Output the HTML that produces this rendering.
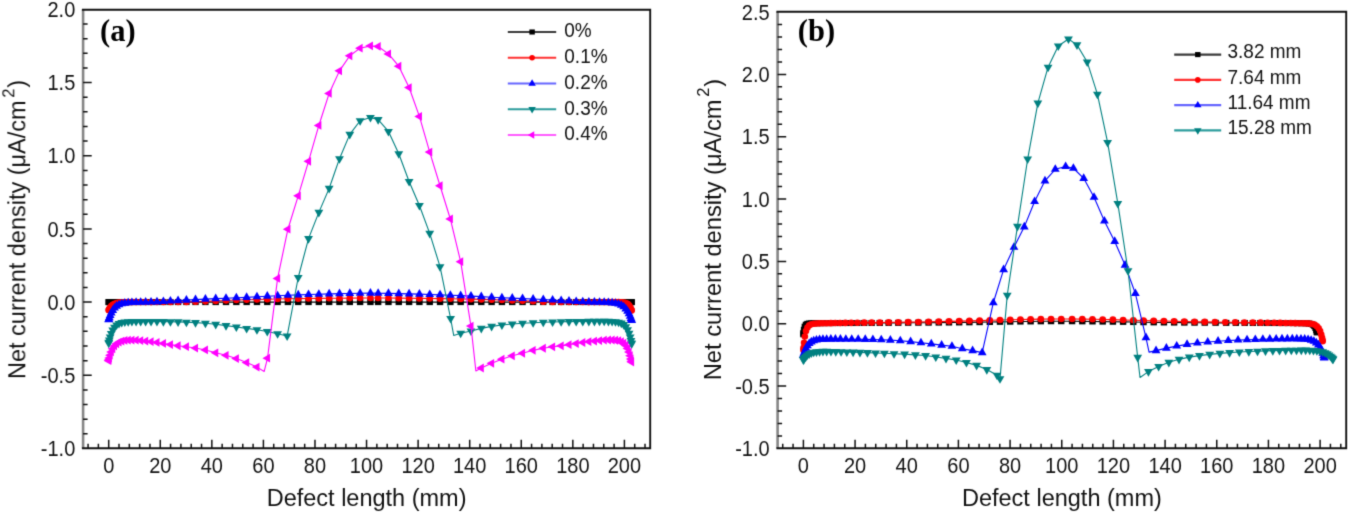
<!DOCTYPE html><html><head><meta charset="utf-8"><style>html,body{margin:0;padding:0;background:#fff;overflow:hidden}svg{display:block}</style></head><body>
<svg width="1348" height="514" viewBox="0 0 1348 514">
<defs><filter id="bl" x="0" y="0" width="1348" height="514" filterUnits="userSpaceOnUse" color-interpolation-filters="sRGB"><feConvolveMatrix order="3" kernelMatrix="0.01960 0.10080 0.01960 0.10080 0.51840 0.10080 0.01960 0.10080 0.01960" divisor="1" edgeMode="duplicate"/></filter></defs>
<rect width="1348" height="514" fill="#fff"/>
<g filter="url(#bl)">
<g>
<path d="M108.70 302.10L108.86 302.10L109.34 302.10L110.15 302.10L111.28 302.10L112.73 302.10L114.50 302.10L116.60 302.10L119.01 302.10L121.75 302.10L124.82 302.10L128.20 302.10L131.91 302.10L136.09 302.10L140.66 302.10L145.63 302.10L151.05 302.10L156.96 302.10L163.40 302.10L170.42 302.10L178.07 302.10L186.41 302.10L195.50 302.10L205.41 302.10L215.71 302.10L226.02 302.10L236.34 302.10L246.65 302.10L256.96 302.10L267.28 302.10L277.59 302.10L287.91 302.10L298.22 302.10L308.53 302.10L318.85 302.10L329.16 302.10L339.48 302.10L349.79 302.10L360.10 302.10L370.42 302.10L378.15 302.10L388.47 302.10L398.78 302.10L409.10 302.10L419.41 302.10L429.72 302.10L440.04 302.10L450.35 302.10L460.67 302.10L470.98 302.10L481.29 302.10L491.61 302.10L501.92 302.10L512.24 302.10L522.55 302.10L533.11 302.10L543.27 302.10L552.59 302.10L561.15 302.10L568.99 302.10L576.19 302.10L582.79 302.10L588.85 302.10L594.41 302.10L599.51 302.10L604.18 302.10L608.41 302.10L612.12 302.10L615.50 302.10L618.57 302.10L621.31 302.10L623.72 302.10L625.82 302.10L627.59 302.10L629.04 302.10L630.17 302.10L630.98 302.10L631.46 302.10L631.62 302.10" fill="none" stroke="#000000" stroke-width="1.1" stroke-linejoin="round"/>
<g fill="#000000"><rect x="105.50" y="299.10" width="6.40" height="6.00"/><rect x="105.66" y="299.10" width="6.40" height="6.00"/><rect x="106.14" y="299.10" width="6.40" height="6.00"/><rect x="106.95" y="299.10" width="6.40" height="6.00"/><rect x="108.08" y="299.10" width="6.40" height="6.00"/><rect x="109.53" y="299.10" width="6.40" height="6.00"/><rect x="111.30" y="299.10" width="6.40" height="6.00"/><rect x="113.40" y="299.10" width="6.40" height="6.00"/><rect x="115.81" y="299.10" width="6.40" height="6.00"/><rect x="118.55" y="299.10" width="6.40" height="6.00"/><rect x="121.62" y="299.10" width="6.40" height="6.00"/><rect x="125.00" y="299.10" width="6.40" height="6.00"/><rect x="128.71" y="299.10" width="6.40" height="6.00"/><rect x="132.89" y="299.10" width="6.40" height="6.00"/><rect x="137.46" y="299.10" width="6.40" height="6.00"/><rect x="142.43" y="299.10" width="6.40" height="6.00"/><rect x="147.85" y="299.10" width="6.40" height="6.00"/><rect x="153.76" y="299.10" width="6.40" height="6.00"/><rect x="160.20" y="299.10" width="6.40" height="6.00"/><rect x="167.22" y="299.10" width="6.40" height="6.00"/><rect x="174.87" y="299.10" width="6.40" height="6.00"/><rect x="183.21" y="299.10" width="6.40" height="6.00"/><rect x="192.30" y="299.10" width="6.40" height="6.00"/><rect x="202.21" y="299.10" width="6.40" height="6.00"/><rect x="212.51" y="299.10" width="6.40" height="6.00"/><rect x="222.82" y="299.10" width="6.40" height="6.00"/><rect x="233.14" y="299.10" width="6.40" height="6.00"/><rect x="243.45" y="299.10" width="6.40" height="6.00"/><rect x="253.76" y="299.10" width="6.40" height="6.00"/><rect x="264.08" y="299.10" width="6.40" height="6.00"/><rect x="274.39" y="299.10" width="6.40" height="6.00"/><rect x="284.71" y="299.10" width="6.40" height="6.00"/><rect x="295.02" y="299.10" width="6.40" height="6.00"/><rect x="305.33" y="299.10" width="6.40" height="6.00"/><rect x="315.65" y="299.10" width="6.40" height="6.00"/><rect x="325.96" y="299.10" width="6.40" height="6.00"/><rect x="336.28" y="299.10" width="6.40" height="6.00"/><rect x="346.59" y="299.10" width="6.40" height="6.00"/><rect x="356.90" y="299.10" width="6.40" height="6.00"/><rect x="367.22" y="299.10" width="6.40" height="6.00"/><rect x="374.95" y="299.10" width="6.40" height="6.00"/><rect x="385.27" y="299.10" width="6.40" height="6.00"/><rect x="395.58" y="299.10" width="6.40" height="6.00"/><rect x="405.90" y="299.10" width="6.40" height="6.00"/><rect x="416.21" y="299.10" width="6.40" height="6.00"/><rect x="426.52" y="299.10" width="6.40" height="6.00"/><rect x="436.84" y="299.10" width="6.40" height="6.00"/><rect x="447.15" y="299.10" width="6.40" height="6.00"/><rect x="457.47" y="299.10" width="6.40" height="6.00"/><rect x="467.78" y="299.10" width="6.40" height="6.00"/><rect x="478.09" y="299.10" width="6.40" height="6.00"/><rect x="488.41" y="299.10" width="6.40" height="6.00"/><rect x="498.72" y="299.10" width="6.40" height="6.00"/><rect x="509.04" y="299.10" width="6.40" height="6.00"/><rect x="519.35" y="299.10" width="6.40" height="6.00"/><rect x="529.91" y="299.10" width="6.40" height="6.00"/><rect x="540.07" y="299.10" width="6.40" height="6.00"/><rect x="549.39" y="299.10" width="6.40" height="6.00"/><rect x="557.95" y="299.10" width="6.40" height="6.00"/><rect x="565.79" y="299.10" width="6.40" height="6.00"/><rect x="572.99" y="299.10" width="6.40" height="6.00"/><rect x="579.59" y="299.10" width="6.40" height="6.00"/><rect x="585.65" y="299.10" width="6.40" height="6.00"/><rect x="591.21" y="299.10" width="6.40" height="6.00"/><rect x="596.31" y="299.10" width="6.40" height="6.00"/><rect x="600.98" y="299.10" width="6.40" height="6.00"/><rect x="605.21" y="299.10" width="6.40" height="6.00"/><rect x="608.92" y="299.10" width="6.40" height="6.00"/><rect x="612.30" y="299.10" width="6.40" height="6.00"/><rect x="615.37" y="299.10" width="6.40" height="6.00"/><rect x="618.11" y="299.10" width="6.40" height="6.00"/><rect x="620.52" y="299.10" width="6.40" height="6.00"/><rect x="622.62" y="299.10" width="6.40" height="6.00"/><rect x="624.39" y="299.10" width="6.40" height="6.00"/><rect x="625.84" y="299.10" width="6.40" height="6.00"/><rect x="626.97" y="299.10" width="6.40" height="6.00"/><rect x="627.78" y="299.10" width="6.40" height="6.00"/><rect x="628.26" y="299.10" width="6.40" height="6.00"/><rect x="628.42" y="299.10" width="6.40" height="6.00"/></g>
<path d="M108.70 310.15L108.86 309.80L109.34 308.83L110.15 307.49L111.28 306.04L112.73 304.74L114.50 303.71L116.60 303.00L119.01 302.56L121.75 302.32L124.82 302.19L128.20 302.14L131.91 302.11L136.09 302.10L140.66 302.10L145.63 302.09L151.05 302.09L156.96 302.07L163.40 302.05L170.42 302.03L178.07 302.00L186.41 301.95L195.50 301.74L205.41 301.34L215.71 300.93L226.02 300.50L236.34 300.07L246.65 299.72L256.96 299.44L267.28 299.21L277.59 299.00L287.91 298.82L298.22 298.66L308.53 298.52L318.85 298.40L329.16 298.29L339.48 298.18L349.79 298.09L360.10 298.02L370.42 298.00L378.15 298.02L388.47 298.07L398.78 298.16L409.10 298.26L419.41 298.38L429.72 298.49L440.04 298.63L450.35 298.79L460.67 298.97L470.98 299.16L481.29 299.39L491.61 299.66L501.92 299.99L512.24 300.41L522.55 300.85L533.11 301.26L543.27 301.69L552.59 301.94L561.15 301.99L568.99 302.03L576.19 302.05L582.79 302.07L588.85 302.08L594.41 302.09L599.51 302.10L604.18 302.10L608.41 302.10L612.12 302.10L615.50 302.12L618.57 302.15L621.31 302.26L623.72 302.50L625.82 302.99L627.59 303.88L629.04 305.22L630.17 306.94L630.98 308.71L631.46 310.07L631.62 310.59" fill="none" stroke="#ff0000" stroke-width="1.1" stroke-linejoin="round"/>
<g fill="#ff0000"><circle cx="108.70" cy="310.15" r="3.30"/><circle cx="108.86" cy="309.80" r="3.30"/><circle cx="109.34" cy="308.83" r="3.30"/><circle cx="110.15" cy="307.49" r="3.30"/><circle cx="111.28" cy="306.04" r="3.30"/><circle cx="112.73" cy="304.74" r="3.30"/><circle cx="114.50" cy="303.71" r="3.30"/><circle cx="116.60" cy="303.00" r="3.30"/><circle cx="119.01" cy="302.56" r="3.30"/><circle cx="121.75" cy="302.32" r="3.30"/><circle cx="124.82" cy="302.19" r="3.30"/><circle cx="128.20" cy="302.14" r="3.30"/><circle cx="131.91" cy="302.11" r="3.30"/><circle cx="136.09" cy="302.10" r="3.30"/><circle cx="140.66" cy="302.10" r="3.30"/><circle cx="145.63" cy="302.09" r="3.30"/><circle cx="151.05" cy="302.09" r="3.30"/><circle cx="156.96" cy="302.07" r="3.30"/><circle cx="163.40" cy="302.05" r="3.30"/><circle cx="170.42" cy="302.03" r="3.30"/><circle cx="178.07" cy="302.00" r="3.30"/><circle cx="186.41" cy="301.95" r="3.30"/><circle cx="195.50" cy="301.74" r="3.30"/><circle cx="205.41" cy="301.34" r="3.30"/><circle cx="215.71" cy="300.93" r="3.30"/><circle cx="226.02" cy="300.50" r="3.30"/><circle cx="236.34" cy="300.07" r="3.30"/><circle cx="246.65" cy="299.72" r="3.30"/><circle cx="256.96" cy="299.44" r="3.30"/><circle cx="267.28" cy="299.21" r="3.30"/><circle cx="277.59" cy="299.00" r="3.30"/><circle cx="287.91" cy="298.82" r="3.30"/><circle cx="298.22" cy="298.66" r="3.30"/><circle cx="308.53" cy="298.52" r="3.30"/><circle cx="318.85" cy="298.40" r="3.30"/><circle cx="329.16" cy="298.29" r="3.30"/><circle cx="339.48" cy="298.18" r="3.30"/><circle cx="349.79" cy="298.09" r="3.30"/><circle cx="360.10" cy="298.02" r="3.30"/><circle cx="370.42" cy="298.00" r="3.30"/><circle cx="378.15" cy="298.02" r="3.30"/><circle cx="388.47" cy="298.07" r="3.30"/><circle cx="398.78" cy="298.16" r="3.30"/><circle cx="409.10" cy="298.26" r="3.30"/><circle cx="419.41" cy="298.38" r="3.30"/><circle cx="429.72" cy="298.49" r="3.30"/><circle cx="440.04" cy="298.63" r="3.30"/><circle cx="450.35" cy="298.79" r="3.30"/><circle cx="460.67" cy="298.97" r="3.30"/><circle cx="470.98" cy="299.16" r="3.30"/><circle cx="481.29" cy="299.39" r="3.30"/><circle cx="491.61" cy="299.66" r="3.30"/><circle cx="501.92" cy="299.99" r="3.30"/><circle cx="512.24" cy="300.41" r="3.30"/><circle cx="522.55" cy="300.85" r="3.30"/><circle cx="533.11" cy="301.26" r="3.30"/><circle cx="543.27" cy="301.69" r="3.30"/><circle cx="552.59" cy="301.94" r="3.30"/><circle cx="561.15" cy="301.99" r="3.30"/><circle cx="568.99" cy="302.03" r="3.30"/><circle cx="576.19" cy="302.05" r="3.30"/><circle cx="582.79" cy="302.07" r="3.30"/><circle cx="588.85" cy="302.08" r="3.30"/><circle cx="594.41" cy="302.09" r="3.30"/><circle cx="599.51" cy="302.10" r="3.30"/><circle cx="604.18" cy="302.10" r="3.30"/><circle cx="608.41" cy="302.10" r="3.30"/><circle cx="612.12" cy="302.10" r="3.30"/><circle cx="615.50" cy="302.12" r="3.30"/><circle cx="618.57" cy="302.15" r="3.30"/><circle cx="621.31" cy="302.26" r="3.30"/><circle cx="623.72" cy="302.50" r="3.30"/><circle cx="625.82" cy="302.99" r="3.30"/><circle cx="627.59" cy="303.88" r="3.30"/><circle cx="629.04" cy="305.22" r="3.30"/><circle cx="630.17" cy="306.94" r="3.30"/><circle cx="630.98" cy="308.71" r="3.30"/><circle cx="631.46" cy="310.07" r="3.30"/><circle cx="631.62" cy="310.59" r="3.30"/></g>
<path d="M108.70 319.66L108.86 319.13L109.34 317.63L110.15 315.43L111.28 312.89L112.73 310.34L114.50 308.06L116.60 306.18L119.01 304.74L121.75 303.73L124.82 303.11L128.20 302.74L131.91 302.51L136.09 302.35L140.66 302.24L145.63 302.17L151.05 302.08L156.96 301.85L163.40 301.50L170.42 301.08L178.07 300.66L186.41 300.16L195.50 299.63L205.41 299.11L215.71 298.67L226.02 298.24L236.34 297.82L246.65 297.35L256.96 296.76L267.28 296.18L277.59 295.71L287.91 295.30L298.22 294.91L308.53 294.55L318.85 294.22L329.16 293.90L339.48 293.64L349.79 293.43L360.10 293.25L370.42 293.17L378.15 293.22L388.47 293.39L398.78 293.60L409.10 293.84L419.41 294.15L429.72 294.49L440.04 294.84L450.35 295.22L460.67 295.63L470.98 296.08L481.29 296.63L491.61 297.24L501.92 297.73L512.24 298.15L522.55 298.58L533.11 299.03L543.27 299.54L552.59 300.09L561.15 300.59L568.99 301.03L576.19 301.46L582.79 301.83L588.85 302.07L594.41 302.17L599.51 302.26L604.18 302.39L608.41 302.58L612.12 302.87L615.50 303.33L618.57 304.08L621.31 305.24L623.72 306.83L625.82 308.86L627.59 311.24L629.04 313.81L630.17 316.32L630.98 318.45L631.46 319.89L631.62 320.39" fill="none" stroke="#0000ff" stroke-width="1.1" stroke-linejoin="round"/>
<g fill="#0000ff"><path d="M108.70 314.60L113.10 322.20L104.30 322.20Z"/><path d="M108.86 314.06L113.26 321.66L104.46 321.66Z"/><path d="M109.34 312.56L113.74 320.16L104.94 320.16Z"/><path d="M110.15 310.36L114.55 317.96L105.75 317.96Z"/><path d="M111.28 307.82L115.68 315.42L106.88 315.42Z"/><path d="M112.73 305.28L117.13 312.88L108.33 312.88Z"/><path d="M114.50 303.00L118.90 310.60L110.10 310.60Z"/><path d="M116.60 301.11L121.00 308.71L112.20 308.71Z"/><path d="M119.01 299.68L123.41 307.28L114.61 307.28Z"/><path d="M121.75 298.67L126.15 306.27L117.35 306.27Z"/><path d="M124.82 298.04L129.22 305.64L120.42 305.64Z"/><path d="M128.20 297.67L132.60 305.27L123.80 305.27Z"/><path d="M131.91 297.44L136.31 305.04L127.51 305.04Z"/><path d="M136.09 297.29L140.49 304.89L131.69 304.89Z"/><path d="M140.66 297.18L145.06 304.78L136.26 304.78Z"/><path d="M145.63 297.10L150.03 304.70L141.23 304.70Z"/><path d="M151.05 297.01L155.45 304.61L146.65 304.61Z"/><path d="M156.96 296.79L161.36 304.39L152.56 304.39Z"/><path d="M163.40 296.44L167.80 304.04L159.00 304.04Z"/><path d="M170.42 296.02L174.82 303.62L166.02 303.62Z"/><path d="M178.07 295.59L182.47 303.19L173.67 303.19Z"/><path d="M186.41 295.10L190.81 302.70L182.01 302.70Z"/><path d="M195.50 294.56L199.90 302.16L191.10 302.16Z"/><path d="M205.41 294.04L209.81 301.64L201.01 301.64Z"/><path d="M215.71 293.60L220.11 301.20L211.31 301.20Z"/><path d="M226.02 293.17L230.42 300.77L221.62 300.77Z"/><path d="M236.34 292.75L240.74 300.35L231.94 300.35Z"/><path d="M246.65 292.29L251.05 299.89L242.25 299.89Z"/><path d="M256.96 291.69L261.36 299.29L252.56 299.29Z"/><path d="M267.28 291.12L271.68 298.72L262.88 298.72Z"/><path d="M277.59 290.65L281.99 298.25L273.19 298.25Z"/><path d="M287.91 290.23L292.31 297.83L283.51 297.83Z"/><path d="M298.22 289.85L302.62 297.45L293.82 297.45Z"/><path d="M308.53 289.49L312.93 297.09L304.13 297.09Z"/><path d="M318.85 289.15L323.25 296.75L314.45 296.75Z"/><path d="M329.16 288.83L333.56 296.43L324.76 296.43Z"/><path d="M339.48 288.57L343.88 296.17L335.08 296.17Z"/><path d="M349.79 288.36L354.19 295.96L345.39 295.96Z"/><path d="M360.10 288.18L364.50 295.78L355.70 295.78Z"/><path d="M370.42 288.11L374.82 295.71L366.02 295.71Z"/><path d="M378.15 288.15L382.55 295.75L373.75 295.75Z"/><path d="M388.47 288.32L392.87 295.92L384.07 295.92Z"/><path d="M398.78 288.53L403.18 296.13L394.38 296.13Z"/><path d="M409.10 288.78L413.50 296.38L404.70 296.38Z"/><path d="M419.41 289.09L423.81 296.69L415.01 296.69Z"/><path d="M429.72 289.42L434.12 297.02L425.32 297.02Z"/><path d="M440.04 289.77L444.44 297.37L435.64 297.37Z"/><path d="M450.35 290.15L454.75 297.75L445.95 297.75Z"/><path d="M460.67 290.56L465.07 298.16L456.27 298.16Z"/><path d="M470.98 291.02L475.38 298.62L466.58 298.62Z"/><path d="M481.29 291.57L485.69 299.17L476.89 299.17Z"/><path d="M491.61 292.18L496.01 299.78L487.21 299.78Z"/><path d="M501.92 292.67L506.32 300.27L497.52 300.27Z"/><path d="M512.24 293.09L516.64 300.69L507.84 300.69Z"/><path d="M522.55 293.52L526.95 301.12L518.15 301.12Z"/><path d="M533.11 293.96L537.51 301.56L528.71 301.56Z"/><path d="M543.27 294.48L547.67 302.08L538.87 302.08Z"/><path d="M552.59 295.02L556.99 302.62L548.19 302.62Z"/><path d="M561.15 295.53L565.55 303.13L556.75 303.13Z"/><path d="M568.99 295.96L573.39 303.56L564.59 303.56Z"/><path d="M576.19 296.39L580.59 303.99L571.79 303.99Z"/><path d="M582.79 296.76L587.19 304.36L578.39 304.36Z"/><path d="M588.85 297.00L593.25 304.60L584.45 304.60Z"/><path d="M594.41 297.11L598.81 304.71L590.01 304.71Z"/><path d="M599.51 297.19L603.91 304.79L595.11 304.79Z"/><path d="M604.18 297.32L608.58 304.92L599.78 304.92Z"/><path d="M608.41 297.51L612.81 305.11L604.01 305.11Z"/><path d="M612.12 297.80L616.52 305.40L607.72 305.40Z"/><path d="M615.50 298.26L619.90 305.86L611.10 305.86Z"/><path d="M618.57 299.01L622.97 306.61L614.17 306.61Z"/><path d="M621.31 300.17L625.71 307.77L616.91 307.77Z"/><path d="M623.72 301.77L628.12 309.37L619.32 309.37Z"/><path d="M625.82 303.79L630.22 311.39L621.42 311.39Z"/><path d="M627.59 306.17L631.99 313.77L623.19 313.77Z"/><path d="M629.04 308.74L633.44 316.34L624.64 316.34Z"/><path d="M630.17 311.25L634.57 318.85L625.77 318.85Z"/><path d="M630.98 313.38L635.38 320.98L626.58 320.98Z"/><path d="M631.46 314.82L635.86 322.42L627.06 322.42Z"/><path d="M631.62 315.33L636.02 322.93L627.22 322.93Z"/></g>
<path d="M108.70 343.08L108.86 342.30L109.34 340.13L110.15 337.00L111.28 333.48L112.73 330.10L114.50 327.23L116.60 325.04L119.01 323.52L121.75 322.55L124.82 321.98L128.20 321.68L131.91 321.53L136.09 321.46L140.66 321.44L145.63 321.46L151.05 321.49L156.96 321.54L163.40 321.60L170.42 321.72L178.07 321.91L186.41 322.16L195.50 322.60L205.41 323.28L215.71 324.31L226.02 325.58L236.34 327.01L246.65 328.41L256.96 329.72L267.28 331.42L277.59 333.71L287.13 336.05L298.22 277.51L308.53 238.58L318.85 212.39L329.16 188.39L339.48 158.68L349.79 134.38L360.10 120.77L370.42 117.55L378.15 119.60L388.47 131.46L398.78 153.70L409.10 181.51L419.41 205.51L429.72 233.32L440.04 266.68L450.61 318.49L453.70 335.47L460.67 333.26L470.98 330.93L481.29 328.39L491.61 326.39L501.92 324.93L512.24 323.96L522.55 323.24L533.11 322.69L543.27 322.27L552.59 321.99L561.15 321.78L568.99 321.62L576.19 321.52L582.79 321.43L588.85 321.36L594.41 321.31L599.51 321.29L604.18 321.30L608.41 321.35L612.12 321.47L615.50 321.73L618.57 322.22L621.31 323.12L623.72 324.60L625.82 326.79L627.59 329.76L629.04 333.34L630.17 337.13L630.98 340.55L631.46 342.95L631.62 343.81" fill="none" stroke="#008080" stroke-width="1.1" stroke-linejoin="round"/>
<g fill="#008080"><path d="M108.70 348.14L113.10 340.54L104.30 340.54Z"/><path d="M108.86 347.37L113.26 339.77L104.46 339.77Z"/><path d="M109.34 345.20L113.74 337.60L104.94 337.60Z"/><path d="M110.15 342.07L114.55 334.47L105.75 334.47Z"/><path d="M111.28 338.55L115.68 330.95L106.88 330.95Z"/><path d="M112.73 335.17L117.13 327.57L108.33 327.57Z"/><path d="M114.50 332.30L118.90 324.70L110.10 324.70Z"/><path d="M116.60 330.11L121.00 322.51L112.20 322.51Z"/><path d="M119.01 328.58L123.41 320.98L114.61 320.98Z"/><path d="M121.75 327.62L126.15 320.02L117.35 320.02Z"/><path d="M124.82 327.05L129.22 319.45L120.42 319.45Z"/><path d="M128.20 326.75L132.60 319.15L123.80 319.15Z"/><path d="M131.91 326.59L136.31 318.99L127.51 318.99Z"/><path d="M136.09 326.53L140.49 318.93L131.69 318.93Z"/><path d="M140.66 326.51L145.06 318.91L136.26 318.91Z"/><path d="M145.63 326.52L150.03 318.92L141.23 318.92Z"/><path d="M151.05 326.56L155.45 318.96L146.65 318.96Z"/><path d="M156.96 326.60L161.36 319.00L152.56 319.00Z"/><path d="M163.40 326.67L167.80 319.07L159.00 319.07Z"/><path d="M170.42 326.79L174.82 319.19L166.02 319.19Z"/><path d="M178.07 326.97L182.47 319.37L173.67 319.37Z"/><path d="M186.41 327.23L190.81 319.63L182.01 319.63Z"/><path d="M195.50 327.66L199.90 320.06L191.10 320.06Z"/><path d="M205.41 328.34L209.81 320.74L201.01 320.74Z"/><path d="M215.71 329.38L220.11 321.78L211.31 321.78Z"/><path d="M226.02 330.65L230.42 323.05L221.62 323.05Z"/><path d="M236.34 332.08L240.74 324.48L231.94 324.48Z"/><path d="M246.65 333.48L251.05 325.88L242.25 325.88Z"/><path d="M256.96 334.79L261.36 327.19L252.56 327.19Z"/><path d="M267.28 336.49L271.68 328.89L262.88 328.89Z"/><path d="M277.59 338.78L281.99 331.18L273.19 331.18Z"/><path d="M287.13 341.12L291.53 333.52L282.73 333.52Z"/><path d="M298.22 282.58L302.62 274.98L293.82 274.98Z"/><path d="M308.53 243.65L312.93 236.05L304.13 236.05Z"/><path d="M318.85 217.45L323.25 209.85L314.45 209.85Z"/><path d="M329.16 193.45L333.56 185.85L324.76 185.85Z"/><path d="M339.48 163.74L343.88 156.14L335.08 156.14Z"/><path d="M349.79 139.45L354.19 131.85L345.39 131.85Z"/><path d="M360.10 125.84L364.50 118.24L355.70 118.24Z"/><path d="M370.42 122.62L374.82 115.02L366.02 115.02Z"/><path d="M378.15 124.67L382.55 117.07L373.75 117.07Z"/><path d="M388.47 136.52L392.87 128.92L384.07 128.92Z"/><path d="M398.78 158.77L403.18 151.17L394.38 151.17Z"/><path d="M409.10 186.57L413.50 178.97L404.70 178.97Z"/><path d="M419.41 210.58L423.81 202.98L415.01 202.98Z"/><path d="M429.72 238.38L434.12 230.78L425.32 230.78Z"/><path d="M440.04 271.75L444.44 264.15L435.64 264.15Z"/><path d="M450.61 323.56L455.01 315.96L446.21 315.96Z"/><path d="M460.67 338.33L465.07 330.73L456.27 330.73Z"/><path d="M470.98 336.00L475.38 328.40L466.58 328.40Z"/><path d="M481.29 333.45L485.69 325.85L476.89 325.85Z"/><path d="M491.61 331.46L496.01 323.86L487.21 323.86Z"/><path d="M501.92 330.00L506.32 322.40L497.52 322.40Z"/><path d="M512.24 329.02L516.64 321.42L507.84 321.42Z"/><path d="M522.55 328.31L526.95 320.71L518.15 320.71Z"/><path d="M533.11 327.76L537.51 320.16L528.71 320.16Z"/><path d="M543.27 327.34L547.67 319.74L538.87 319.74Z"/><path d="M552.59 327.06L556.99 319.46L548.19 319.46Z"/><path d="M561.15 326.84L565.55 319.24L556.75 319.24Z"/><path d="M568.99 326.69L573.39 319.09L564.59 319.09Z"/><path d="M576.19 326.59L580.59 318.99L571.79 318.99Z"/><path d="M582.79 326.50L587.19 318.90L578.39 318.90Z"/><path d="M588.85 326.43L593.25 318.83L584.45 318.83Z"/><path d="M594.41 326.38L598.81 318.78L590.01 318.78Z"/><path d="M599.51 326.36L603.91 318.76L595.11 318.76Z"/><path d="M604.18 326.37L608.58 318.77L599.78 318.77Z"/><path d="M608.41 326.42L612.81 318.82L604.01 318.82Z"/><path d="M612.12 326.54L616.52 318.94L607.72 318.94Z"/><path d="M615.50 326.79L619.90 319.19L611.10 319.19Z"/><path d="M618.57 327.29L622.97 319.69L614.17 319.69Z"/><path d="M621.31 328.19L625.71 320.59L616.91 320.59Z"/><path d="M623.72 329.66L628.12 322.06L619.32 322.06Z"/><path d="M625.82 331.86L630.22 324.26L621.42 324.26Z"/><path d="M627.59 334.83L631.99 327.23L623.19 327.23Z"/><path d="M629.04 338.40L633.44 330.80L624.64 330.80Z"/><path d="M630.17 342.20L634.57 334.60L625.77 334.60Z"/><path d="M630.98 345.62L635.38 338.02L626.58 338.02Z"/><path d="M631.46 348.01L635.86 340.41L627.06 340.41Z"/><path d="M631.62 348.88L636.02 341.28L627.22 341.28Z"/></g>
<path d="M108.70 360.64L108.86 359.95L109.34 358.03L110.15 355.21L111.28 351.97L112.73 348.77L114.50 345.96L116.60 343.73L119.01 342.13L121.75 341.08L124.82 340.46L128.20 340.15L131.91 340.06L136.09 340.17L140.66 340.55L145.63 341.04L151.05 341.63L156.96 342.43L163.40 343.46L170.42 344.62L178.07 345.76L186.41 346.68L195.50 348.04L205.41 349.96L215.71 352.80L226.02 355.30L236.34 358.56L246.65 362.58L256.96 367.11L264.18 371.47L267.54 358.15L277.59 278.39L287.91 229.22L298.22 195.85L308.53 161.31L318.85 125.46L329.16 93.40L339.48 70.87L349.79 55.79L360.10 48.18L370.42 45.84L378.15 46.43L388.47 53.89L398.78 66.18L409.10 87.55L419.41 116.38L429.72 152.09L440.04 185.75L450.35 218.97L460.67 261.71L470.98 326.10L475.88 371.03L481.29 368.02L491.61 363.33L501.92 359.20L512.24 355.81L522.55 353.25L533.11 350.34L543.27 348.26L552.59 346.82L561.15 345.87L568.99 344.72L576.19 343.54L582.79 342.48L588.85 341.65L594.41 341.04L599.51 340.53L604.18 340.12L608.41 339.98L612.12 340.01L615.50 340.24L618.57 340.75L621.31 341.69L623.72 343.24L625.82 345.50L627.59 348.49L629.04 352.03L630.17 355.72L630.98 359.00L631.46 361.28L631.62 362.10" fill="none" stroke="#ff00ff" stroke-width="1.1" stroke-linejoin="round"/>
<g fill="#ff00ff"><path d="M103.63 360.64L111.23 356.24L111.23 365.04Z"/><path d="M103.79 359.95L111.39 355.55L111.39 364.35Z"/><path d="M104.28 358.03L111.88 353.63L111.88 362.43Z"/><path d="M105.08 355.21L112.68 350.81L112.68 359.61Z"/><path d="M106.21 351.97L113.81 347.57L113.81 356.37Z"/><path d="M107.66 348.77L115.26 344.37L115.26 353.17Z"/><path d="M109.43 345.96L117.03 341.56L117.03 350.36Z"/><path d="M111.53 343.73L119.13 339.33L119.13 348.13Z"/><path d="M113.95 342.13L121.55 337.73L121.55 346.53Z"/><path d="M116.69 341.08L124.29 336.68L124.29 345.48Z"/><path d="M119.75 340.46L127.35 336.06L127.35 344.86Z"/><path d="M123.13 340.15L130.73 335.75L130.73 344.55Z"/><path d="M126.84 340.06L134.44 335.66L134.44 344.46Z"/><path d="M131.03 340.17L138.63 335.77L138.63 344.57Z"/><path d="M135.59 340.55L143.19 336.15L143.19 344.95Z"/><path d="M140.56 341.04L148.16 336.64L148.16 345.44Z"/><path d="M145.98 341.63L153.58 337.23L153.58 346.03Z"/><path d="M151.89 342.43L159.49 338.03L159.49 346.83Z"/><path d="M158.33 343.46L165.93 339.06L165.93 347.86Z"/><path d="M165.35 344.62L172.95 340.22L172.95 349.02Z"/><path d="M173.00 345.76L180.60 341.36L180.60 350.16Z"/><path d="M181.34 346.68L188.94 342.28L188.94 351.08Z"/><path d="M190.43 348.04L198.03 343.64L198.03 352.44Z"/><path d="M200.34 349.96L207.94 345.56L207.94 354.36Z"/><path d="M210.64 352.80L218.24 348.40L218.24 357.20Z"/><path d="M220.96 355.30L228.56 350.90L228.56 359.70Z"/><path d="M231.27 358.56L238.87 354.16L238.87 362.96Z"/><path d="M241.58 362.58L249.18 358.18L249.18 366.98Z"/><path d="M251.90 367.11L259.50 362.71L259.50 371.51Z"/><path d="M262.47 358.15L270.07 353.75L270.07 362.55Z"/><path d="M272.53 278.39L280.13 273.99L280.13 282.79Z"/><path d="M282.84 229.22L290.44 224.82L290.44 233.62Z"/><path d="M293.15 195.85L300.75 191.45L300.75 200.25Z"/><path d="M303.47 161.31L311.07 156.91L311.07 165.71Z"/><path d="M313.78 125.46L321.38 121.06L321.38 129.86Z"/><path d="M324.10 93.40L331.70 89.00L331.70 97.80Z"/><path d="M334.41 70.87L342.01 66.47L342.01 75.27Z"/><path d="M344.72 55.79L352.32 51.39L352.32 60.19Z"/><path d="M355.04 48.18L362.64 43.78L362.64 52.58Z"/><path d="M365.35 45.84L372.95 41.44L372.95 50.24Z"/><path d="M373.09 46.43L380.69 42.03L380.69 50.83Z"/><path d="M383.40 53.89L391.00 49.49L391.00 58.29Z"/><path d="M393.71 66.18L401.31 61.78L401.31 70.58Z"/><path d="M404.03 87.55L411.63 83.15L411.63 91.95Z"/><path d="M414.34 116.38L421.94 111.98L421.94 120.78Z"/><path d="M424.66 152.09L432.26 147.69L432.26 156.49Z"/><path d="M434.97 185.75L442.57 181.35L442.57 190.15Z"/><path d="M445.28 218.97L452.88 214.57L452.88 223.37Z"/><path d="M455.60 261.71L463.20 257.31L463.20 266.11Z"/><path d="M465.91 326.10L473.51 321.70L473.51 330.50Z"/><path d="M476.23 368.02L483.83 363.62L483.83 372.42Z"/><path d="M486.54 363.33L494.14 358.93L494.14 367.73Z"/><path d="M496.85 359.20L504.45 354.80L504.45 363.60Z"/><path d="M507.17 355.81L514.77 351.41L514.77 360.21Z"/><path d="M517.48 353.25L525.08 348.85L525.08 357.65Z"/><path d="M528.05 350.34L535.65 345.94L535.65 354.74Z"/><path d="M538.21 348.26L545.81 343.86L545.81 352.66Z"/><path d="M547.53 346.82L555.13 342.42L555.13 351.22Z"/><path d="M556.08 345.87L563.68 341.47L563.68 350.27Z"/><path d="M563.92 344.72L571.52 340.32L571.52 349.12Z"/><path d="M571.12 343.54L578.72 339.14L578.72 347.94Z"/><path d="M577.72 342.48L585.32 338.08L585.32 346.88Z"/><path d="M583.78 341.65L591.38 337.25L591.38 346.05Z"/><path d="M589.34 341.04L596.94 336.64L596.94 345.44Z"/><path d="M594.44 340.53L602.04 336.13L602.04 344.93Z"/><path d="M599.12 340.12L606.72 335.72L606.72 344.52Z"/><path d="M603.35 339.98L610.95 335.58L610.95 344.38Z"/><path d="M607.05 340.01L614.65 335.61L614.65 344.41Z"/><path d="M610.44 340.24L618.04 335.84L618.04 344.64Z"/><path d="M613.50 340.75L621.10 336.35L621.10 345.15Z"/><path d="M616.24 341.69L623.84 337.29L623.84 346.09Z"/><path d="M618.66 343.24L626.26 338.84L626.26 347.64Z"/><path d="M620.75 345.50L628.35 341.10L628.35 349.90Z"/><path d="M622.52 348.49L630.12 344.09L630.12 352.89Z"/><path d="M623.97 352.03L631.57 347.63L631.57 356.43Z"/><path d="M625.10 355.72L632.70 351.32L632.70 360.12Z"/><path d="M625.91 359.00L633.51 354.60L633.51 363.40Z"/><path d="M626.39 361.28L633.99 356.88L633.99 365.68Z"/><path d="M626.55 362.10L634.15 357.70L634.15 366.50Z"/></g>
</g>
<g>
<path d="M803.40 334.30L803.56 332.91L804.05 329.75L804.85 326.67L805.98 324.73L807.44 323.84L809.21 323.49L811.31 323.34L813.73 323.25L816.48 323.20L819.55 323.18L822.94 323.15L826.65 323.13L830.80 323.11L835.24 323.09L840.08 323.07L845.36 323.05L851.11 323.04L857.37 323.03L864.21 323.01L871.65 322.99L879.77 322.96L888.62 322.91L898.26 322.87L908.16 322.81L918.37 322.75L928.57 322.69L938.78 322.62L948.98 322.54L959.19 322.45L969.39 322.33L979.59 322.17L989.80 322.00L1000.00 321.84L1010.21 321.70L1020.41 321.57L1030.62 321.44L1040.82 321.32L1051.03 321.23L1061.23 321.21L1072.08 321.25L1082.29 321.35L1092.49 321.47L1102.70 321.61L1112.90 321.74L1123.11 321.88L1133.31 322.05L1143.52 322.22L1153.72 322.36L1163.93 322.47L1174.13 322.56L1184.34 322.64L1194.54 322.71L1204.75 322.77L1215.59 322.83L1226.15 322.89L1235.83 322.93L1244.72 322.97L1252.87 323.00L1260.35 323.02L1267.22 323.04L1273.51 323.05L1279.29 323.07L1284.59 323.09L1289.45 323.11L1293.75 323.13L1297.46 323.15L1300.85 323.18L1303.92 323.22L1306.67 323.31L1309.09 323.52L1311.19 323.95L1312.96 324.74L1314.42 326.08L1315.55 327.95L1316.35 330.05L1316.84 331.76L1317.00 332.43" fill="none" stroke="#000000" stroke-width="1.1" stroke-linejoin="round"/>
<g fill="#000000"><rect x="800.20" y="331.30" width="6.40" height="6.00"/><rect x="800.36" y="329.91" width="6.40" height="6.00"/><rect x="800.85" y="326.75" width="6.40" height="6.00"/><rect x="801.65" y="323.67" width="6.40" height="6.00"/><rect x="802.78" y="321.73" width="6.40" height="6.00"/><rect x="804.24" y="320.84" width="6.40" height="6.00"/><rect x="806.01" y="320.49" width="6.40" height="6.00"/><rect x="808.11" y="320.34" width="6.40" height="6.00"/><rect x="810.53" y="320.25" width="6.40" height="6.00"/><rect x="813.28" y="320.20" width="6.40" height="6.00"/><rect x="816.35" y="320.18" width="6.40" height="6.00"/><rect x="819.74" y="320.15" width="6.40" height="6.00"/><rect x="823.45" y="320.13" width="6.40" height="6.00"/><rect x="827.60" y="320.11" width="6.40" height="6.00"/><rect x="832.04" y="320.09" width="6.40" height="6.00"/><rect x="836.88" y="320.07" width="6.40" height="6.00"/><rect x="842.16" y="320.05" width="6.40" height="6.00"/><rect x="847.91" y="320.04" width="6.40" height="6.00"/><rect x="854.17" y="320.03" width="6.40" height="6.00"/><rect x="861.01" y="320.01" width="6.40" height="6.00"/><rect x="868.45" y="319.99" width="6.40" height="6.00"/><rect x="876.57" y="319.96" width="6.40" height="6.00"/><rect x="885.42" y="319.91" width="6.40" height="6.00"/><rect x="895.06" y="319.87" width="6.40" height="6.00"/><rect x="904.96" y="319.81" width="6.40" height="6.00"/><rect x="915.17" y="319.75" width="6.40" height="6.00"/><rect x="925.37" y="319.69" width="6.40" height="6.00"/><rect x="935.58" y="319.62" width="6.40" height="6.00"/><rect x="945.78" y="319.54" width="6.40" height="6.00"/><rect x="955.99" y="319.45" width="6.40" height="6.00"/><rect x="966.19" y="319.33" width="6.40" height="6.00"/><rect x="976.39" y="319.17" width="6.40" height="6.00"/><rect x="986.60" y="319.00" width="6.40" height="6.00"/><rect x="996.80" y="318.84" width="6.40" height="6.00"/><rect x="1007.01" y="318.70" width="6.40" height="6.00"/><rect x="1017.21" y="318.57" width="6.40" height="6.00"/><rect x="1027.42" y="318.44" width="6.40" height="6.00"/><rect x="1037.62" y="318.32" width="6.40" height="6.00"/><rect x="1047.83" y="318.23" width="6.40" height="6.00"/><rect x="1058.03" y="318.21" width="6.40" height="6.00"/><rect x="1068.88" y="318.25" width="6.40" height="6.00"/><rect x="1079.09" y="318.35" width="6.40" height="6.00"/><rect x="1089.29" y="318.47" width="6.40" height="6.00"/><rect x="1099.50" y="318.61" width="6.40" height="6.00"/><rect x="1109.70" y="318.74" width="6.40" height="6.00"/><rect x="1119.91" y="318.88" width="6.40" height="6.00"/><rect x="1130.11" y="319.05" width="6.40" height="6.00"/><rect x="1140.32" y="319.22" width="6.40" height="6.00"/><rect x="1150.52" y="319.36" width="6.40" height="6.00"/><rect x="1160.73" y="319.47" width="6.40" height="6.00"/><rect x="1170.93" y="319.56" width="6.40" height="6.00"/><rect x="1181.14" y="319.64" width="6.40" height="6.00"/><rect x="1191.34" y="319.71" width="6.40" height="6.00"/><rect x="1201.55" y="319.77" width="6.40" height="6.00"/><rect x="1212.39" y="319.83" width="6.40" height="6.00"/><rect x="1222.95" y="319.89" width="6.40" height="6.00"/><rect x="1232.63" y="319.93" width="6.40" height="6.00"/><rect x="1241.52" y="319.97" width="6.40" height="6.00"/><rect x="1249.67" y="320.00" width="6.40" height="6.00"/><rect x="1257.15" y="320.02" width="6.40" height="6.00"/><rect x="1264.02" y="320.04" width="6.40" height="6.00"/><rect x="1270.31" y="320.05" width="6.40" height="6.00"/><rect x="1276.09" y="320.07" width="6.40" height="6.00"/><rect x="1281.39" y="320.09" width="6.40" height="6.00"/><rect x="1286.25" y="320.11" width="6.40" height="6.00"/><rect x="1290.55" y="320.13" width="6.40" height="6.00"/><rect x="1294.26" y="320.15" width="6.40" height="6.00"/><rect x="1297.65" y="320.18" width="6.40" height="6.00"/><rect x="1300.72" y="320.22" width="6.40" height="6.00"/><rect x="1303.47" y="320.31" width="6.40" height="6.00"/><rect x="1305.89" y="320.52" width="6.40" height="6.00"/><rect x="1307.99" y="320.95" width="6.40" height="6.00"/><rect x="1309.76" y="321.74" width="6.40" height="6.00"/><rect x="1311.22" y="323.08" width="6.40" height="6.00"/><rect x="1312.35" y="324.95" width="6.40" height="6.00"/><rect x="1313.15" y="327.05" width="6.40" height="6.00"/><rect x="1313.64" y="328.76" width="6.40" height="6.00"/><rect x="1313.80" y="329.43" width="6.40" height="6.00"/></g>
<path d="M803.40 349.88L803.56 347.86L804.05 342.71L804.85 336.50L805.98 331.12L807.44 327.44L809.21 325.33L811.31 324.25L813.73 323.72L816.48 323.47L819.55 323.35L822.94 323.27L826.65 323.20L830.80 323.13L835.24 323.06L840.08 322.99L845.36 322.91L851.11 322.83L857.37 322.75L864.21 322.67L871.65 322.58L879.77 322.47L888.62 322.35L898.26 322.22L908.16 322.09L918.37 321.94L928.57 321.78L938.78 321.59L948.98 321.36L959.19 321.11L969.39 320.84L979.59 320.58L989.80 320.31L1000.00 320.02L1010.21 319.74L1020.41 319.51L1030.62 319.33L1040.82 319.16L1051.03 319.03L1061.23 318.96L1072.08 319.00L1082.29 319.12L1092.49 319.28L1102.70 319.46L1112.90 319.67L1123.11 319.94L1133.31 320.23L1143.52 320.50L1153.72 320.76L1163.93 321.03L1174.13 321.29L1184.34 321.52L1194.54 321.72L1204.75 321.89L1214.95 322.05L1225.23 322.19L1235.23 322.32L1244.41 322.44L1252.83 322.56L1260.56 322.65L1267.65 322.74L1274.15 322.82L1280.12 322.90L1285.59 322.98L1290.62 323.06L1295.22 323.13L1299.43 323.20L1303.15 323.28L1306.54 323.40L1309.60 323.61L1312.35 324.03L1314.77 324.84L1316.87 326.19L1318.65 328.25L1320.10 331.08L1321.23 334.44L1322.04 337.76L1322.52 340.23L1322.68 341.15" fill="none" stroke="#ff0000" stroke-width="1.1" stroke-linejoin="round"/>
<g fill="#ff0000"><circle cx="803.40" cy="349.88" r="3.30"/><circle cx="803.56" cy="347.86" r="3.30"/><circle cx="804.05" cy="342.71" r="3.30"/><circle cx="804.85" cy="336.50" r="3.30"/><circle cx="805.98" cy="331.12" r="3.30"/><circle cx="807.44" cy="327.44" r="3.30"/><circle cx="809.21" cy="325.33" r="3.30"/><circle cx="811.31" cy="324.25" r="3.30"/><circle cx="813.73" cy="323.72" r="3.30"/><circle cx="816.48" cy="323.47" r="3.30"/><circle cx="819.55" cy="323.35" r="3.30"/><circle cx="822.94" cy="323.27" r="3.30"/><circle cx="826.65" cy="323.20" r="3.30"/><circle cx="830.80" cy="323.13" r="3.30"/><circle cx="835.24" cy="323.06" r="3.30"/><circle cx="840.08" cy="322.99" r="3.30"/><circle cx="845.36" cy="322.91" r="3.30"/><circle cx="851.11" cy="322.83" r="3.30"/><circle cx="857.37" cy="322.75" r="3.30"/><circle cx="864.21" cy="322.67" r="3.30"/><circle cx="871.65" cy="322.58" r="3.30"/><circle cx="879.77" cy="322.47" r="3.30"/><circle cx="888.62" cy="322.35" r="3.30"/><circle cx="898.26" cy="322.22" r="3.30"/><circle cx="908.16" cy="322.09" r="3.30"/><circle cx="918.37" cy="321.94" r="3.30"/><circle cx="928.57" cy="321.78" r="3.30"/><circle cx="938.78" cy="321.59" r="3.30"/><circle cx="948.98" cy="321.36" r="3.30"/><circle cx="959.19" cy="321.11" r="3.30"/><circle cx="969.39" cy="320.84" r="3.30"/><circle cx="979.59" cy="320.58" r="3.30"/><circle cx="989.80" cy="320.31" r="3.30"/><circle cx="1000.00" cy="320.02" r="3.30"/><circle cx="1010.21" cy="319.74" r="3.30"/><circle cx="1020.41" cy="319.51" r="3.30"/><circle cx="1030.62" cy="319.33" r="3.30"/><circle cx="1040.82" cy="319.16" r="3.30"/><circle cx="1051.03" cy="319.03" r="3.30"/><circle cx="1061.23" cy="318.96" r="3.30"/><circle cx="1072.08" cy="319.00" r="3.30"/><circle cx="1082.29" cy="319.12" r="3.30"/><circle cx="1092.49" cy="319.28" r="3.30"/><circle cx="1102.70" cy="319.46" r="3.30"/><circle cx="1112.90" cy="319.67" r="3.30"/><circle cx="1123.11" cy="319.94" r="3.30"/><circle cx="1133.31" cy="320.23" r="3.30"/><circle cx="1143.52" cy="320.50" r="3.30"/><circle cx="1153.72" cy="320.76" r="3.30"/><circle cx="1163.93" cy="321.03" r="3.30"/><circle cx="1174.13" cy="321.29" r="3.30"/><circle cx="1184.34" cy="321.52" r="3.30"/><circle cx="1194.54" cy="321.72" r="3.30"/><circle cx="1204.75" cy="321.89" r="3.30"/><circle cx="1214.95" cy="322.05" r="3.30"/><circle cx="1225.23" cy="322.19" r="3.30"/><circle cx="1235.23" cy="322.32" r="3.30"/><circle cx="1244.41" cy="322.44" r="3.30"/><circle cx="1252.83" cy="322.56" r="3.30"/><circle cx="1260.56" cy="322.65" r="3.30"/><circle cx="1267.65" cy="322.74" r="3.30"/><circle cx="1274.15" cy="322.82" r="3.30"/><circle cx="1280.12" cy="322.90" r="3.30"/><circle cx="1285.59" cy="322.98" r="3.30"/><circle cx="1290.62" cy="323.06" r="3.30"/><circle cx="1295.22" cy="323.13" r="3.30"/><circle cx="1299.43" cy="323.20" r="3.30"/><circle cx="1303.15" cy="323.28" r="3.30"/><circle cx="1306.54" cy="323.40" r="3.30"/><circle cx="1309.60" cy="323.61" r="3.30"/><circle cx="1312.35" cy="324.03" r="3.30"/><circle cx="1314.77" cy="324.84" r="3.30"/><circle cx="1316.87" cy="326.19" r="3.30"/><circle cx="1318.65" cy="328.25" r="3.30"/><circle cx="1320.10" cy="331.08" r="3.30"/><circle cx="1321.23" cy="334.44" r="3.30"/><circle cx="1322.04" cy="337.76" r="3.30"/><circle cx="1322.52" cy="340.23" r="3.30"/><circle cx="1322.68" cy="341.15" r="3.30"/></g>
<path d="M803.40 355.49L803.56 354.90L804.05 353.26L804.85 350.91L805.98 348.26L807.44 345.71L809.21 343.55L811.31 341.89L813.73 340.74L816.48 340.01L819.55 339.58L822.94 339.35L826.65 339.24L830.85 339.19L835.42 339.18L840.40 339.19L845.83 339.22L851.75 339.26L858.20 339.31L865.24 339.41L872.90 339.57L881.26 339.79L890.37 340.16L900.29 340.74L910.62 341.62L920.95 342.70L931.28 343.92L941.62 345.11L951.95 346.26L962.29 348.68L972.62 350.62L982.18 352.62L993.29 302.76L1003.62 269.60L1013.96 247.29L1024.29 226.85L1034.62 201.54L1044.96 180.85L1055.29 169.26L1065.63 166.52L1073.38 168.26L1083.71 178.36L1094.04 197.30L1104.38 220.99L1114.71 241.43L1125.05 265.11L1135.38 293.53L1145.97 337.66L1149.07 352.12L1156.05 350.61L1166.38 348.12L1176.72 346.09L1187.05 344.39L1197.38 343.02L1207.72 341.99L1218.05 341.19L1228.24 340.57L1238.04 340.09L1247.04 339.74L1255.29 339.48L1262.85 339.28L1269.80 339.13L1276.17 339.02L1282.01 338.92L1287.37 338.86L1292.29 338.84L1296.81 338.86L1300.98 338.95L1304.70 339.16L1308.09 339.55L1311.15 340.22L1313.90 341.29L1316.32 342.85L1318.42 344.94L1320.20 347.51L1321.65 350.38L1322.78 353.24L1323.59 355.71L1324.07 357.38L1324.23 357.98" fill="none" stroke="#0000ff" stroke-width="1.1" stroke-linejoin="round"/>
<g fill="#0000ff"><path d="M803.40 350.42L807.80 358.02L799.00 358.02Z"/><path d="M803.56 349.83L807.96 357.43L799.16 357.43Z"/><path d="M804.05 348.20L808.45 355.80L799.65 355.80Z"/><path d="M804.85 345.84L809.25 353.44L800.45 353.44Z"/><path d="M805.98 343.19L810.38 350.79L801.58 350.79Z"/><path d="M807.44 340.64L811.84 348.24L803.04 348.24Z"/><path d="M809.21 338.48L813.61 346.08L804.81 346.08Z"/><path d="M811.31 336.82L815.71 344.42L806.91 344.42Z"/><path d="M813.73 335.68L818.13 343.28L809.33 343.28Z"/><path d="M816.48 334.95L820.88 342.55L812.08 342.55Z"/><path d="M819.55 334.52L823.95 342.12L815.15 342.12Z"/><path d="M822.94 334.29L827.34 341.89L818.54 341.89Z"/><path d="M826.65 334.17L831.05 341.77L822.25 341.77Z"/><path d="M830.85 334.12L835.25 341.72L826.45 341.72Z"/><path d="M835.42 334.11L839.82 341.71L831.02 341.71Z"/><path d="M840.40 334.12L844.80 341.72L836.00 341.72Z"/><path d="M845.83 334.15L850.23 341.75L841.43 341.75Z"/><path d="M851.75 334.19L856.15 341.79L847.35 341.79Z"/><path d="M858.20 334.24L862.60 341.84L853.80 341.84Z"/><path d="M865.24 334.35L869.64 341.95L860.84 341.95Z"/><path d="M872.90 334.50L877.30 342.10L868.50 342.10Z"/><path d="M881.26 334.72L885.66 342.32L876.86 342.32Z"/><path d="M890.37 335.09L894.77 342.69L885.97 342.69Z"/><path d="M900.29 335.67L904.69 343.27L895.89 343.27Z"/><path d="M910.62 336.55L915.02 344.15L906.22 344.15Z"/><path d="M920.95 337.64L925.35 345.24L916.55 345.24Z"/><path d="M931.28 338.86L935.68 346.46L926.88 346.46Z"/><path d="M941.62 340.04L946.02 347.64L937.22 347.64Z"/><path d="M951.95 341.19L956.35 348.79L947.55 348.79Z"/><path d="M962.29 343.62L966.69 351.22L957.89 351.22Z"/><path d="M972.62 345.56L977.02 353.16L968.22 353.16Z"/><path d="M982.18 347.55L986.58 355.15L977.78 355.15Z"/><path d="M993.29 297.69L997.69 305.29L988.89 305.29Z"/><path d="M1003.62 264.54L1008.02 272.14L999.22 272.14Z"/><path d="M1013.96 242.22L1018.36 249.82L1009.56 249.82Z"/><path d="M1024.29 221.78L1028.69 229.38L1019.89 229.38Z"/><path d="M1034.62 196.48L1039.02 204.08L1030.22 204.08Z"/><path d="M1044.96 175.78L1049.36 183.38L1040.56 183.38Z"/><path d="M1055.29 164.19L1059.69 171.79L1050.89 171.79Z"/><path d="M1065.63 161.45L1070.03 169.05L1061.23 169.05Z"/><path d="M1073.38 163.19L1077.78 170.79L1068.98 170.79Z"/><path d="M1083.71 173.29L1088.11 180.89L1079.31 180.89Z"/><path d="M1094.04 192.24L1098.44 199.84L1089.64 199.84Z"/><path d="M1104.38 215.92L1108.78 223.52L1099.98 223.52Z"/><path d="M1114.71 236.36L1119.11 243.96L1110.31 243.96Z"/><path d="M1125.05 260.05L1129.45 267.65L1120.65 267.65Z"/><path d="M1135.38 288.47L1139.78 296.07L1130.98 296.07Z"/><path d="M1145.97 332.59L1150.37 340.19L1141.57 340.19Z"/><path d="M1156.05 345.54L1160.45 353.14L1151.65 353.14Z"/><path d="M1166.38 343.05L1170.78 350.65L1161.98 350.65Z"/><path d="M1176.72 341.02L1181.12 348.62L1172.32 348.62Z"/><path d="M1187.05 339.33L1191.45 346.93L1182.65 346.93Z"/><path d="M1197.38 337.95L1201.78 345.55L1192.98 345.55Z"/><path d="M1207.72 336.92L1212.12 344.52L1203.32 344.52Z"/><path d="M1218.05 336.12L1222.45 343.72L1213.65 343.72Z"/><path d="M1228.24 335.50L1232.64 343.10L1223.84 343.10Z"/><path d="M1238.04 335.02L1242.44 342.62L1233.64 342.62Z"/><path d="M1247.04 334.68L1251.44 342.28L1242.64 342.28Z"/><path d="M1255.29 334.41L1259.69 342.01L1250.89 342.01Z"/><path d="M1262.85 334.21L1267.25 341.81L1258.45 341.81Z"/><path d="M1269.80 334.06L1274.20 341.66L1265.40 341.66Z"/><path d="M1276.17 333.95L1280.57 341.55L1271.77 341.55Z"/><path d="M1282.01 333.86L1286.41 341.46L1277.61 341.46Z"/><path d="M1287.37 333.80L1291.77 341.40L1282.97 341.40Z"/><path d="M1292.29 333.77L1296.69 341.37L1287.89 341.37Z"/><path d="M1296.81 333.80L1301.21 341.40L1292.41 341.40Z"/><path d="M1300.98 333.89L1305.38 341.49L1296.58 341.49Z"/><path d="M1304.70 334.09L1309.10 341.69L1300.30 341.69Z"/><path d="M1308.09 334.48L1312.49 342.08L1303.69 342.08Z"/><path d="M1311.15 335.16L1315.55 342.76L1306.75 342.76Z"/><path d="M1313.90 336.23L1318.30 343.83L1309.50 343.83Z"/><path d="M1316.32 337.78L1320.72 345.38L1311.92 345.38Z"/><path d="M1318.42 339.87L1322.82 347.47L1314.02 347.47Z"/><path d="M1320.20 342.44L1324.60 350.04L1315.80 350.04Z"/><path d="M1321.65 345.31L1326.05 352.91L1317.25 352.91Z"/><path d="M1322.78 348.18L1327.18 355.78L1318.38 355.78Z"/><path d="M1323.59 350.64L1327.99 358.24L1319.19 358.24Z"/><path d="M1324.07 352.32L1328.47 359.92L1319.67 359.92Z"/><path d="M1324.23 352.91L1328.63 360.51L1319.83 360.51Z"/></g>
<path d="M803.40 359.85L803.56 359.57L804.05 358.79L804.85 357.65L805.98 356.34L807.44 355.03L809.21 353.88L811.31 352.96L813.73 352.29L816.48 351.84L819.55 351.56L822.94 351.41L826.65 351.36L830.95 351.42L835.79 351.57L841.08 351.76L846.83 351.95L853.11 352.15L859.95 352.38L867.41 352.64L875.54 352.95L884.40 353.30L894.06 353.68L904.59 354.15L915.39 354.84L925.60 355.56L935.80 357.02L946.01 358.35L956.21 359.92L966.42 362.41L976.62 365.38L986.83 369.57L997.03 375.24L1000.00 378.67L1007.24 295.28L1017.44 226.35L1027.65 159.04L1037.85 103.07L1048.06 67.17L1058.26 45.98L1068.47 39.00L1076.99 44.86L1087.20 61.93L1097.40 94.22L1107.61 142.46L1117.81 203.41L1128.02 270.72L1137.70 357.36L1140.03 377.55L1148.43 371.61L1158.63 366.47L1168.84 362.31L1179.04 359.34L1189.25 357.15L1199.45 355.59L1209.66 354.38L1219.86 353.37L1229.59 352.64L1239.33 352.05L1248.81 351.57L1257.50 351.19L1265.48 350.88L1272.80 350.65L1279.52 350.48L1285.68 350.34L1291.33 350.23L1296.52 350.16L1301.28 350.13L1305.64 350.15L1309.77 350.24L1313.48 350.42L1316.87 350.72L1319.94 351.19L1322.68 351.85L1325.11 352.71L1327.20 353.77L1328.98 354.96L1330.43 356.21L1331.56 357.39L1332.37 358.36L1332.86 359.00L1333.02 359.23" fill="none" stroke="#008080" stroke-width="1.1" stroke-linejoin="round"/>
<g fill="#008080"><path d="M803.40 364.92L807.80 357.32L799.00 357.32Z"/><path d="M803.56 364.64L807.96 357.04L799.16 357.04Z"/><path d="M804.05 363.86L808.45 356.26L799.65 356.26Z"/><path d="M804.85 362.72L809.25 355.12L800.45 355.12Z"/><path d="M805.98 361.40L810.38 353.80L801.58 353.80Z"/><path d="M807.44 360.10L811.84 352.50L803.04 352.50Z"/><path d="M809.21 358.95L813.61 351.35L804.81 351.35Z"/><path d="M811.31 358.03L815.71 350.43L806.91 350.43Z"/><path d="M813.73 357.36L818.13 349.76L809.33 349.76Z"/><path d="M816.48 356.91L820.88 349.31L812.08 349.31Z"/><path d="M819.55 356.63L823.95 349.03L815.15 349.03Z"/><path d="M822.94 356.47L827.34 348.87L818.54 348.87Z"/><path d="M826.65 356.43L831.05 348.83L822.25 348.83Z"/><path d="M830.95 356.49L835.35 348.89L826.55 348.89Z"/><path d="M835.79 356.64L840.19 349.04L831.39 349.04Z"/><path d="M841.08 356.83L845.48 349.23L836.68 349.23Z"/><path d="M846.83 357.01L851.23 349.41L842.43 349.41Z"/><path d="M853.11 357.21L857.51 349.61L848.71 349.61Z"/><path d="M859.95 357.45L864.35 349.85L855.55 349.85Z"/><path d="M867.41 357.71L871.81 350.11L863.01 350.11Z"/><path d="M875.54 358.02L879.94 350.42L871.14 350.42Z"/><path d="M884.40 358.37L888.80 350.77L880.00 350.77Z"/><path d="M894.06 358.75L898.46 351.15L889.66 351.15Z"/><path d="M904.59 359.22L908.99 351.62L900.19 351.62Z"/><path d="M915.39 359.90L919.79 352.30L910.99 352.30Z"/><path d="M925.60 360.63L930.00 353.03L921.20 353.03Z"/><path d="M935.80 362.08L940.20 354.48L931.40 354.48Z"/><path d="M946.01 363.42L950.41 355.82L941.61 355.82Z"/><path d="M956.21 364.99L960.61 357.39L951.81 357.39Z"/><path d="M966.42 367.48L970.82 359.88L962.02 359.88Z"/><path d="M976.62 370.44L981.02 362.84L972.22 362.84Z"/><path d="M986.83 374.64L991.23 367.04L982.43 367.04Z"/><path d="M997.03 380.31L1001.43 372.71L992.63 372.71Z"/><path d="M1000.00 383.74L1004.40 376.14L995.60 376.14Z"/><path d="M1007.24 300.35L1011.64 292.75L1002.84 292.75Z"/><path d="M1017.44 231.42L1021.84 223.82L1013.04 223.82Z"/><path d="M1027.65 164.10L1032.05 156.50L1023.25 156.50Z"/><path d="M1037.85 108.14L1042.25 100.54L1033.45 100.54Z"/><path d="M1048.06 72.24L1052.46 64.64L1043.66 64.64Z"/><path d="M1058.26 51.05L1062.66 43.45L1053.86 43.45Z"/><path d="M1068.47 44.07L1072.87 36.47L1064.07 36.47Z"/><path d="M1076.99 49.92L1081.39 42.32L1072.59 42.32Z"/><path d="M1087.20 67.00L1091.60 59.40L1082.80 59.40Z"/><path d="M1097.40 99.29L1101.80 91.69L1093.00 91.69Z"/><path d="M1107.61 147.53L1112.01 139.93L1103.21 139.93Z"/><path d="M1117.81 208.48L1122.21 200.88L1113.41 200.88Z"/><path d="M1128.02 275.79L1132.42 268.19L1123.62 268.19Z"/><path d="M1137.70 362.42L1142.10 354.82L1133.30 354.82Z"/><path d="M1148.43 376.68L1152.83 369.08L1144.03 369.08Z"/><path d="M1158.63 371.54L1163.03 363.94L1154.23 363.94Z"/><path d="M1168.84 367.38L1173.24 359.78L1164.44 359.78Z"/><path d="M1179.04 364.41L1183.44 356.81L1174.64 356.81Z"/><path d="M1189.25 362.22L1193.65 354.62L1184.85 354.62Z"/><path d="M1199.45 360.66L1203.85 353.06L1195.05 353.06Z"/><path d="M1209.66 359.44L1214.06 351.84L1205.26 351.84Z"/><path d="M1219.86 358.44L1224.26 350.84L1215.46 350.84Z"/><path d="M1229.59 357.70L1233.99 350.10L1225.19 350.10Z"/><path d="M1239.33 357.11L1243.73 349.51L1234.93 349.51Z"/><path d="M1248.81 356.64L1253.21 349.04L1244.41 349.04Z"/><path d="M1257.50 356.25L1261.90 348.65L1253.10 348.65Z"/><path d="M1265.48 355.94L1269.88 348.34L1261.08 348.34Z"/><path d="M1272.80 355.71L1277.20 348.11L1268.40 348.11Z"/><path d="M1279.52 355.54L1283.92 347.94L1275.12 347.94Z"/><path d="M1285.68 355.40L1290.08 347.80L1281.28 347.80Z"/><path d="M1291.33 355.30L1295.73 347.70L1286.93 347.70Z"/><path d="M1296.52 355.23L1300.92 347.63L1292.12 347.63Z"/><path d="M1301.28 355.20L1305.68 347.60L1296.88 347.60Z"/><path d="M1305.64 355.22L1310.04 347.62L1301.24 347.62Z"/><path d="M1309.77 355.30L1314.17 347.70L1305.37 347.70Z"/><path d="M1313.48 355.48L1317.88 347.88L1309.08 347.88Z"/><path d="M1316.87 355.79L1321.27 348.19L1312.47 348.19Z"/><path d="M1319.94 356.25L1324.34 348.65L1315.54 348.65Z"/><path d="M1322.68 356.91L1327.08 349.31L1318.28 349.31Z"/><path d="M1325.11 357.78L1329.51 350.18L1320.71 350.18Z"/><path d="M1327.20 358.83L1331.60 351.23L1322.80 351.23Z"/><path d="M1328.98 360.03L1333.38 352.43L1324.58 352.43Z"/><path d="M1330.43 361.28L1334.83 353.68L1326.03 353.68Z"/><path d="M1331.56 362.45L1335.96 354.85L1327.16 354.85Z"/><path d="M1332.37 363.43L1336.77 355.83L1327.97 355.83Z"/><path d="M1332.86 364.07L1337.26 356.47L1328.46 356.47Z"/><path d="M1333.02 364.29L1337.42 356.69L1328.62 356.69Z"/></g>
</g>
<path d="M83.10 9.80V448.30" fill="none" stroke="#868686" stroke-width="2.6"/>
<path d="M81.90 9.80H650.20V448.30H81.90" fill="none" stroke="#111" stroke-width="1.9"/>
<path d="M88.07 448.30v-4.5 M98.39 448.30v-4.5 M108.70 448.30v-8.6 M119.01 448.30v-4.5 M129.33 448.30v-4.5 M139.64 448.30v-4.5 M149.96 448.30v-4.5 M160.27 448.30v-8.6 M170.58 448.30v-4.5 M180.90 448.30v-4.5 M191.21 448.30v-4.5 M201.53 448.30v-4.5 M211.84 448.30v-8.6 M222.15 448.30v-4.5 M232.47 448.30v-4.5 M242.78 448.30v-4.5 M253.10 448.30v-4.5 M263.41 448.30v-8.6 M273.72 448.30v-4.5 M284.04 448.30v-4.5 M294.35 448.30v-4.5 M304.67 448.30v-4.5 M314.98 448.30v-8.6 M325.29 448.30v-4.5 M335.61 448.30v-4.5 M345.92 448.30v-4.5 M356.24 448.30v-4.5 M366.55 448.30v-8.6 M376.86 448.30v-4.5 M387.18 448.30v-4.5 M397.49 448.30v-4.5 M407.81 448.30v-4.5 M418.12 448.30v-8.6 M428.43 448.30v-4.5 M438.75 448.30v-4.5 M449.06 448.30v-4.5 M459.38 448.30v-4.5 M469.69 448.30v-8.6 M480.00 448.30v-4.5 M490.32 448.30v-4.5 M500.63 448.30v-4.5 M510.95 448.30v-4.5 M521.26 448.30v-8.6 M531.57 448.30v-4.5 M541.89 448.30v-4.5 M552.20 448.30v-4.5 M562.52 448.30v-4.5 M572.83 448.30v-8.6 M583.14 448.30v-4.5 M593.46 448.30v-4.5 M603.77 448.30v-4.5 M614.09 448.30v-4.5 M624.40 448.30v-8.6 M634.71 448.30v-4.5 M645.03 448.30v-4.5 M83.10 433.82h4.5 M83.10 419.18h4.5 M83.10 404.55h4.5 M83.10 389.91h4.5 M83.10 375.28h8.6 M83.10 360.64h4.5 M83.10 346.00h4.5 M83.10 331.37h4.5 M83.10 316.74h4.5 M83.10 302.10h8.6 M83.10 287.47h4.5 M83.10 272.83h4.5 M83.10 258.19h4.5 M83.10 243.56h4.5 M83.10 228.93h8.6 M83.10 214.29h4.5 M83.10 199.66h4.5 M83.10 185.02h4.5 M83.10 170.39h4.5 M83.10 155.75h8.6 M83.10 141.12h4.5 M83.10 126.48h4.5 M83.10 111.84h4.5 M83.10 97.21h4.5 M83.10 82.58h8.6 M83.10 67.94h4.5 M83.10 53.31h4.5 M83.10 38.67h4.5 M83.10 24.03h4.5" stroke="#111" stroke-width="1.5" fill="none"/>
<g font-family="&quot;Liberation Sans&quot;, sans-serif" font-size="20" fill="#111" text-anchor="middle">
<text x="108.70" y="472.3" transform="matrix(1 0 0 1.07 0 -32.543)">0</text>
<text x="160.27" y="472.3" transform="matrix(1 0 0 1.07 0 -32.543)">20</text>
<text x="211.84" y="472.3" transform="matrix(1 0 0 1.07 0 -32.543)">40</text>
<text x="263.41" y="472.3" transform="matrix(1 0 0 1.07 0 -32.543)">60</text>
<text x="314.98" y="472.3" transform="matrix(1 0 0 1.07 0 -32.543)">80</text>
<text x="366.55" y="472.3" transform="matrix(1 0 0 1.07 0 -32.543)">100</text>
<text x="418.12" y="472.3" transform="matrix(1 0 0 1.07 0 -32.543)">120</text>
<text x="469.69" y="472.3" transform="matrix(1 0 0 1.07 0 -32.543)">140</text>
<text x="521.26" y="472.3" transform="matrix(1 0 0 1.07 0 -32.543)">160</text>
<text x="572.83" y="472.3" transform="matrix(1 0 0 1.07 0 -32.543)">180</text>
<text x="624.40" y="472.3" transform="matrix(1 0 0 1.07 0 -32.543)">200</text>
</g>
<g font-family="&quot;Liberation Sans&quot;, sans-serif" font-size="20" fill="#111" text-anchor="end">
<text x="75.30" y="16.50" transform="matrix(1 0 0 1.07 0 -0.658)">2.0</text>
<text x="75.30" y="89.68" transform="matrix(1 0 0 1.07 0 -5.780)">1.5</text>
<text x="75.30" y="162.85" transform="matrix(1 0 0 1.07 0 -10.903)">1.0</text>
<text x="75.30" y="236.03" transform="matrix(1 0 0 1.07 0 -16.025)">0.5</text>
<text x="75.30" y="309.20" transform="matrix(1 0 0 1.07 0 -21.147)">0.0</text>
<text x="75.30" y="382.38" transform="matrix(1 0 0 1.07 0 -26.269)">-0.5</text>
<text x="75.30" y="455.55" transform="matrix(1 0 0 1.07 0 -31.392)">-1.0</text>
</g>
<path d="M777.60 11.80V448.30" fill="none" stroke="#868686" stroke-width="2.6"/>
<path d="M776.40 11.80H1346.20V448.30H776.40" fill="none" stroke="#111" stroke-width="1.9"/>
<path d="M782.73 448.30v-4.5 M793.07 448.30v-4.5 M803.40 448.30v-8.6 M813.73 448.30v-4.5 M824.07 448.30v-4.5 M834.40 448.30v-4.5 M844.74 448.30v-4.5 M855.07 448.30v-8.6 M865.40 448.30v-4.5 M875.74 448.30v-4.5 M886.07 448.30v-4.5 M896.41 448.30v-4.5 M906.74 448.30v-8.6 M917.07 448.30v-4.5 M927.41 448.30v-4.5 M937.74 448.30v-4.5 M948.08 448.30v-4.5 M958.41 448.30v-8.6 M968.74 448.30v-4.5 M979.08 448.30v-4.5 M989.41 448.30v-4.5 M999.75 448.30v-4.5 M1010.08 448.30v-8.6 M1020.41 448.30v-4.5 M1030.75 448.30v-4.5 M1041.08 448.30v-4.5 M1051.42 448.30v-4.5 M1061.75 448.30v-8.6 M1072.08 448.30v-4.5 M1082.42 448.30v-4.5 M1092.75 448.30v-4.5 M1103.09 448.30v-4.5 M1113.42 448.30v-8.6 M1123.75 448.30v-4.5 M1134.09 448.30v-4.5 M1144.42 448.30v-4.5 M1154.76 448.30v-4.5 M1165.09 448.30v-8.6 M1175.42 448.30v-4.5 M1185.76 448.30v-4.5 M1196.09 448.30v-4.5 M1206.43 448.30v-4.5 M1216.76 448.30v-8.6 M1227.09 448.30v-4.5 M1237.43 448.30v-4.5 M1247.76 448.30v-4.5 M1258.10 448.30v-4.5 M1268.43 448.30v-8.6 M1278.76 448.30v-4.5 M1289.10 448.30v-4.5 M1299.43 448.30v-4.5 M1309.77 448.30v-4.5 M1320.10 448.30v-8.6 M1330.43 448.30v-4.5 M1340.77 448.30v-4.5 M777.60 435.88h4.5 M777.60 423.42h4.5 M777.60 410.95h4.5 M777.60 398.49h4.5 M777.60 386.02h8.6 M777.60 373.56h4.5 M777.60 361.09h4.5 M777.60 348.63h4.5 M777.60 336.16h4.5 M777.60 323.70h8.6 M777.60 311.23h4.5 M777.60 298.77h4.5 M777.60 286.30h4.5 M777.60 273.84h4.5 M777.60 261.38h8.6 M777.60 248.91h4.5 M777.60 236.44h4.5 M777.60 223.98h4.5 M777.60 211.51h4.5 M777.60 199.05h8.6 M777.60 186.58h4.5 M777.60 174.12h4.5 M777.60 161.65h4.5 M777.60 149.19h4.5 M777.60 136.72h8.6 M777.60 124.26h4.5 M777.60 111.79h4.5 M777.60 99.33h4.5 M777.60 86.86h4.5 M777.60 74.40h8.6 M777.60 61.93h4.5 M777.60 49.47h4.5 M777.60 37.00h4.5 M777.60 24.54h4.5" stroke="#111" stroke-width="1.5" fill="none"/>
<g font-family="&quot;Liberation Sans&quot;, sans-serif" font-size="20" fill="#111" text-anchor="middle">
<text x="803.40" y="472.3" transform="matrix(1 0 0 1.07 0 -32.543)">0</text>
<text x="855.07" y="472.3" transform="matrix(1 0 0 1.07 0 -32.543)">20</text>
<text x="906.74" y="472.3" transform="matrix(1 0 0 1.07 0 -32.543)">40</text>
<text x="958.41" y="472.3" transform="matrix(1 0 0 1.07 0 -32.543)">60</text>
<text x="1010.08" y="472.3" transform="matrix(1 0 0 1.07 0 -32.543)">80</text>
<text x="1061.75" y="472.3" transform="matrix(1 0 0 1.07 0 -32.543)">100</text>
<text x="1113.42" y="472.3" transform="matrix(1 0 0 1.07 0 -32.543)">120</text>
<text x="1165.09" y="472.3" transform="matrix(1 0 0 1.07 0 -32.543)">140</text>
<text x="1216.76" y="472.3" transform="matrix(1 0 0 1.07 0 -32.543)">160</text>
<text x="1268.43" y="472.3" transform="matrix(1 0 0 1.07 0 -32.543)">180</text>
<text x="1320.10" y="472.3" transform="matrix(1 0 0 1.07 0 -32.543)">200</text>
</g>
<g font-family="&quot;Liberation Sans&quot;, sans-serif" font-size="20" fill="#111" text-anchor="end">
<text x="769.60" y="19.17" transform="matrix(1 0 0 1.07 0 -0.845)">2.5</text>
<text x="769.60" y="81.50" transform="matrix(1 0 0 1.07 0 -5.208)">2.0</text>
<text x="769.60" y="143.82" transform="matrix(1 0 0 1.07 0 -9.571)">1.5</text>
<text x="769.60" y="206.15" transform="matrix(1 0 0 1.07 0 -13.934)">1.0</text>
<text x="769.60" y="268.48" transform="matrix(1 0 0 1.07 0 -18.296)">0.5</text>
<text x="769.60" y="330.80" transform="matrix(1 0 0 1.07 0 -22.659)">0.0</text>
<text x="769.60" y="393.12" transform="matrix(1 0 0 1.07 0 -27.022)">-0.5</text>
<text x="769.60" y="455.45" transform="matrix(1 0 0 1.07 0 -31.385)">-1.0</text>
</g>
<text x="100.0" y="41.4" font-family="&quot;Liberation Serif&quot;, serif" font-weight="bold" font-size="30.5" fill="#000">(a)</text>
<text x="797.8" y="41.4" font-family="&quot;Liberation Serif&quot;, serif" font-weight="bold" font-size="30.5" fill="#000">(b)</text>
<path d="M507.80 32.00H556.20" stroke="#3a3a3a" stroke-width="2.2"/>
<g fill="#000000"><rect x="529.38" y="29.45" width="5.44" height="5.10"/></g>
<text x="564.30" y="37.00" transform="matrix(1 0 0 1.06 0 -1.812)" font-family="&quot;Liberation Sans&quot;, sans-serif" font-size="19" fill="#111">0%</text>
<path d="M507.80 57.75H556.20" stroke="#ff3030" stroke-width="2.2"/>
<g fill="#ff0000"><circle cx="532.10" cy="57.75" r="2.80"/></g>
<text x="564.30" y="62.75" transform="matrix(1 0 0 1.06 0 -3.357)" font-family="&quot;Liberation Sans&quot;, sans-serif" font-size="19" fill="#111">0.1%</text>
<path d="M507.80 83.50H556.20" stroke="#6565ff" stroke-width="2.2"/>
<g fill="#0000ff"><path d="M532.10 79.19L535.84 85.65L528.36 85.65Z"/></g>
<text x="564.30" y="88.50" transform="matrix(1 0 0 1.06 0 -4.902)" font-family="&quot;Liberation Sans&quot;, sans-serif" font-size="19" fill="#111">0.2%</text>
<path d="M507.80 109.25H556.20" stroke="#2c9c9c" stroke-width="2.2"/>
<g fill="#008080"><path d="M532.10 113.56L535.84 107.10L528.36 107.10Z"/></g>
<text x="564.30" y="114.25" transform="matrix(1 0 0 1.06 0 -6.447)" font-family="&quot;Liberation Sans&quot;, sans-serif" font-size="19" fill="#111">0.3%</text>
<path d="M507.80 135.00H556.20" stroke="#ff5cff" stroke-width="2.2"/>
<g fill="#ff00ff"><path d="M527.79 135.00L534.25 131.26L534.25 138.74Z"/></g>
<text x="564.30" y="140.00" transform="matrix(1 0 0 1.06 0 -7.992)" font-family="&quot;Liberation Sans&quot;, sans-serif" font-size="19" fill="#111">0.4%</text>
<path d="M1174.20 54.60H1221.20" stroke="#3a3a3a" stroke-width="2.2"/>
<g fill="#000000"><rect x="1195.08" y="52.05" width="5.44" height="5.10"/></g>
<text x="1227.50" y="58.00" transform="matrix(1 0 0 1.06 0 -3.072)" font-family="&quot;Liberation Sans&quot;, sans-serif" font-size="19" fill="#111">3.82 mm</text>
<path d="M1174.20 79.90H1221.20" stroke="#ff3030" stroke-width="2.2"/>
<g fill="#ff0000"><circle cx="1197.80" cy="79.90" r="2.80"/></g>
<text x="1227.50" y="83.30" transform="matrix(1 0 0 1.06 0 -4.590)" font-family="&quot;Liberation Sans&quot;, sans-serif" font-size="19" fill="#111">7.64 mm</text>
<path d="M1174.20 105.20H1221.20" stroke="#6565ff" stroke-width="2.2"/>
<g fill="#0000ff"><path d="M1197.80 100.89L1201.54 107.35L1194.06 107.35Z"/></g>
<text x="1227.50" y="108.60" transform="matrix(1 0 0 1.06 0 -6.108)" font-family="&quot;Liberation Sans&quot;, sans-serif" font-size="19" fill="#111">11.64 mm</text>
<path d="M1174.20 130.40H1221.20" stroke="#2c9c9c" stroke-width="2.2"/>
<g fill="#008080"><path d="M1197.80 134.71L1201.54 128.25L1194.06 128.25Z"/></g>
<text x="1227.50" y="133.80" transform="matrix(1 0 0 1.06 0 -7.620)" font-family="&quot;Liberation Sans&quot;, sans-serif" font-size="19" fill="#111">15.28 mm</text>
<text x="366.6" y="505.8" text-anchor="middle" font-family="&quot;Liberation Sans&quot;, sans-serif" font-size="23.5" fill="#111">Defect length (mm)</text>
<text x="1061.9" y="506.3" text-anchor="middle" font-family="&quot;Liberation Sans&quot;, sans-serif" font-size="23.5" fill="#111">Defect length (mm)</text>
<g transform="translate(25.30 379.00) rotate(-90)" font-family="&quot;Liberation Sans&quot;, sans-serif" fill="#111"><text x="0" y="0" font-size="23.5">Net current density (&#956;A/cm<tspan font-size="16.5" dx="2.6" dy="-11.5">2</tspan><tspan dx="0.8" dy="11.5">)</tspan></text></g>
<g transform="translate(720.60 380.30) rotate(-90)" font-family="&quot;Liberation Sans&quot;, sans-serif" fill="#111"><text x="0" y="0" font-size="23.7">Net current density (&#956;A/cm<tspan font-size="16.5" dx="2.6" dy="-11.5">2</tspan><tspan dx="0.8" dy="11.5">)</tspan></text></g>
</g>
</svg></body></html>
